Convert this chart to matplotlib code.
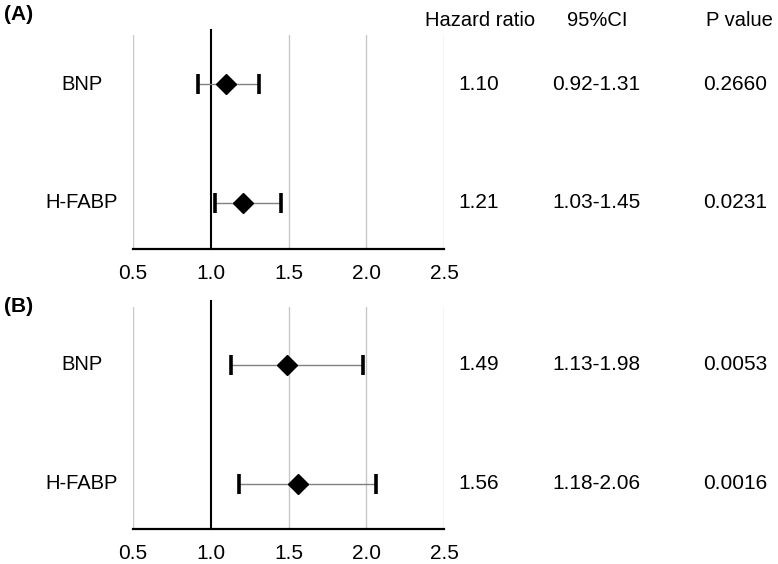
import matplotlib
matplotlib.use("Agg")
import matplotlib.pyplot as plt
import matplotlib.transforms as mtransforms

plt.rcParams['font.family'] = ['Liberation Sans', 'DejaVu Sans']

markers = ["BNP", "H-FABP"]
panel_labels = ["(A)", "(B)"]
hr_a = [1.10, 1.21]
lo_a = [0.92, 1.03]
hi_a = [1.31, 1.45]
p_a = ["0.2660", "0.0231"]
hr_b = [1.49, 1.56]
lo_b = [1.13, 1.18]
hi_b = [1.98, 2.06]
p_b = ["0.0053", "0.0016"]
xticks = [0.5, 1.0, 1.5, 2.0, 2.5]
headers = ["Hazard ratio", "95%CI", "P value"]

W, H = 778, 564
fig = plt.figure(figsize=(W / 100, H / 100), dpi=100)

def fx(px):
    return px / W

def fy(py):
    return 1 - py / H

panels = [
    dict(label=panel_labels[0], hr=hr_a, lo=lo_a, hi=hi_a, p=p_a,
         top=35, bottom=249, ylim=(-0.387, 1.412), label_y=14),
    dict(label=panel_labels[1], hr=hr_b, lo=lo_b, hi=hi_b, p=p_b,
         top=307, bottom=529, ylim=(-0.379, 1.487), label_y=307),
]

for pi, pn in enumerate(panels):
    ax = fig.add_axes([fx(133), fy(pn['bottom']), fx(444) - fx(133),
                       fy(pn['top']) - fy(pn['bottom'])])
    ax.set_xlim(0.5, 2.5)
    ax.set_ylim(*pn['ylim'])
    for s in ['left', 'right', 'top']:
        ax.spines[s].set_visible(False)
    ax.spines['bottom'].set_linewidth(1.6)
    ax.spines['bottom'].set_color('black')
    ax.set_xticks(xticks)
    ax.set_xticklabels([f"{t:.1f}" for t in xticks], fontsize=15)
    ax.tick_params(axis='x', length=0, pad=11)
    ax.set_yticks([])
    for t in xticks:
        if t != 1.0:
            ax.axvline(t, color='#c8c8c8', lw=1.0, zorder=0)
    ax.axvline(1.0, ymin=0, ymax=1.025, color='black', lw=1.5, zorder=1,
               clip_on=False)
    ys = [1, 0]
    ax.hlines(ys, pn['lo'], pn['hi'], color='#808080', lw=1.0, zorder=2)
    ax.plot(pn['lo'], ys, ls='none', marker='|', ms=15, mew=2.6,
            color='black', zorder=3)
    ax.plot(pn['hi'], ys, ls='none', marker='|', ms=15, mew=2.6,
            color='black', zorder=3)
    ax.plot(pn['hr'], ys, ls='none', marker='D', ms=10.5, color='black',
            zorder=4)

    trans = mtransforms.blended_transform_factory(fig.transFigure, ax.transData)
    for yi, name, hr, lo, hi, pv in zip(ys, markers, pn['hr'], pn['lo'],
                                         pn['hi'], pn['p']):
        ax.text(fx(82), yi, name, transform=trans, ha='center', va='center',
                fontsize=14.5, clip_on=False)
        ax.text(fx(479), yi, f"{hr:.2f}", transform=trans, ha='center',
                va='center', fontsize=15, clip_on=False)
        ax.text(fx(596), yi, f"{lo:.2f}-{hi:.2f}", transform=trans,
                ha='center', va='center', fontsize=15, clip_on=False)
        ax.text(fx(735), yi, pv, transform=trans, ha='center', va='center',
                fontsize=15, clip_on=False)

    fig.text(fx(4), fy(pn['label_y']), pn['label'], ha='left', va='center',
             fontsize=15, fontweight='bold')

for hx, h in zip([480, 597, 739], headers):
    fig.text(fx(hx), fy(20), h, ha='center', va='center', fontsize=14.5)

fig.savefig("out.png", dpi=100, facecolor='white')
